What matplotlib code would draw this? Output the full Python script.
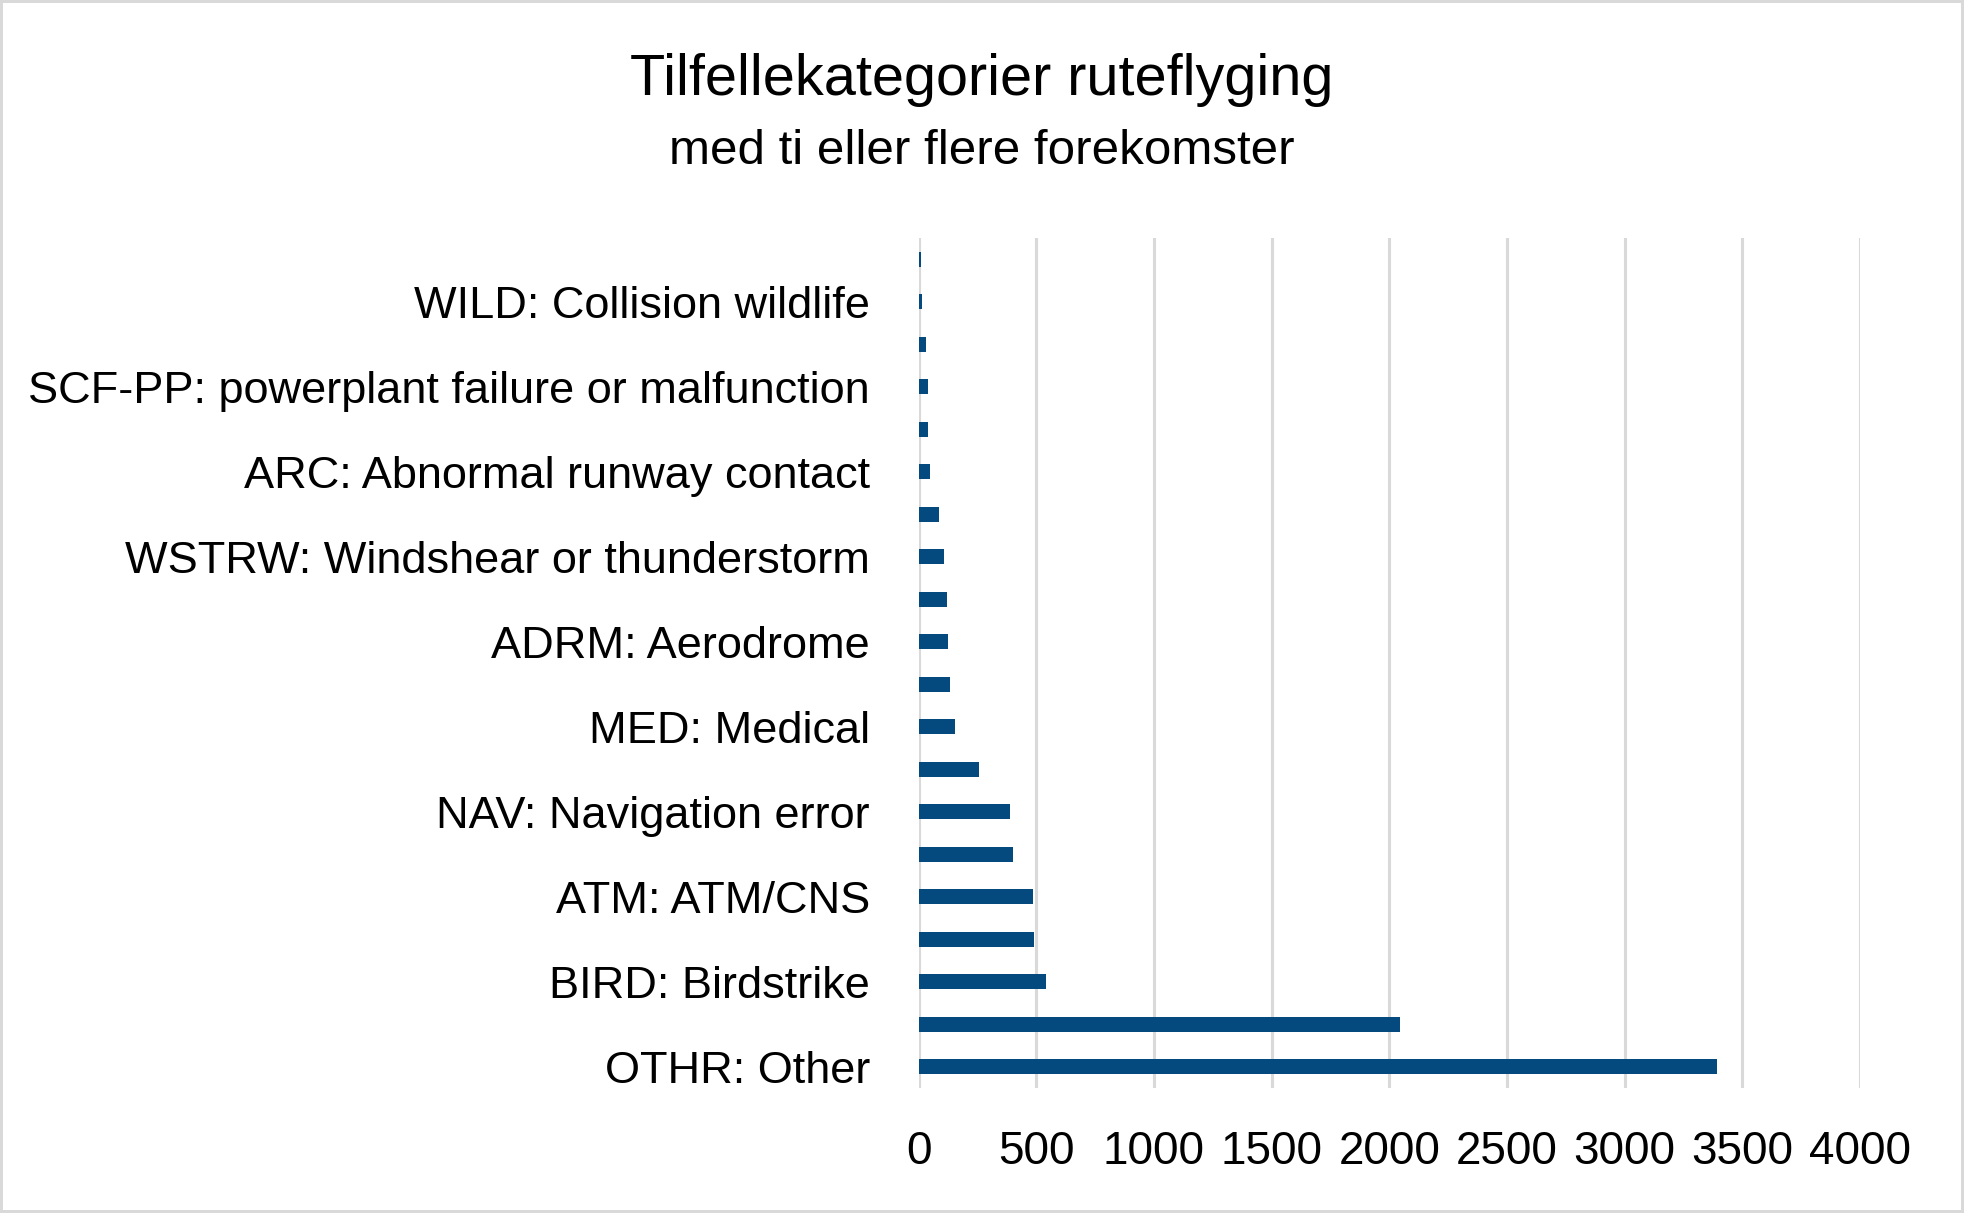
import numpy as np
from matplotlib import pyplot as plt
from matplotlib import font_manager

# Categories, top to bottom (only every other one has its label shown)
categories = ['', 'WILD: Collision wildlife',
              '', 'SCF-PP: powerplant failure or malfunction',
              '', 'ARC: Abnormal runway contact',
              '', 'WSTRW: Windshear or thunderstorm',
              '', 'ADRM: Aerodrome',
              '', 'MED: Medical',
              '', 'NAV: Navigation error',
              '', 'ATM: ATM/CNS',
              '', 'BIRD: Birdstrike',
              '', 'OTHR: Other']
counts = [10, 14, 32, 40, 41, 49, 87, 108, 121, 125,
          134, 155, 257, 389, 401, 486, 491, 542, 2045, 3392]
xticks = [0, 500, 1000, 1500, 2000, 2500, 3000, 3500, 4000]

title = 'Tilfellekategorier ruteflyging'
subtitle = 'med ti eller flere forekomster'

# Pick a narrow face if one is there
names = {f.name for f in font_manager.fontManager.ttflist}
narrow = 'Liberation Sans Narrow' if 'Liberation Sans Narrow' in names else 'Liberation Sans'

fig = plt.figure(figsize=(19.64, 12.13), dpi=100,
                 edgecolor='#D9D9D9', linewidth=4)
ax = fig.add_axes([0.4677, 0.1031, 0.947 - 0.4677, 0.8038 - 0.1031])

y = np.arange(len(counts))
ax.barh(y, counts, height=0.35, color='#044A7E', zorder=2)
ax.set_ylim(len(counts) - 0.5, -0.5)
ax.set_xlim(0, 4000)

ax.set_yticks(y)
ax.set_yticklabels(categories, fontsize=32.5, family=narrow)
ax.set_xticks(xticks)
ax.set_xticklabels([str(t) for t in xticks], fontsize=33, family='Liberation Sans')
ax.tick_params(axis='y', length=0, pad=35)
ax.tick_params(axis='x', length=0, pad=30)

ax.grid(axis='x', color='#D9D9D9', linewidth=2.2, zorder=0)
for s in ax.spines.values():
    s.set_visible(False)

fig.text(0.5, 1 - 80 / 1213, title, ha='center', va='center',
         fontsize=41.5, family=narrow)
fig.text(0.5, 1 - 151 / 1213, subtitle, ha='center', va='center',
         fontsize=35.5, family=narrow)

fig.savefig('out.png', dpi=100, edgecolor=fig.get_edgecolor())
